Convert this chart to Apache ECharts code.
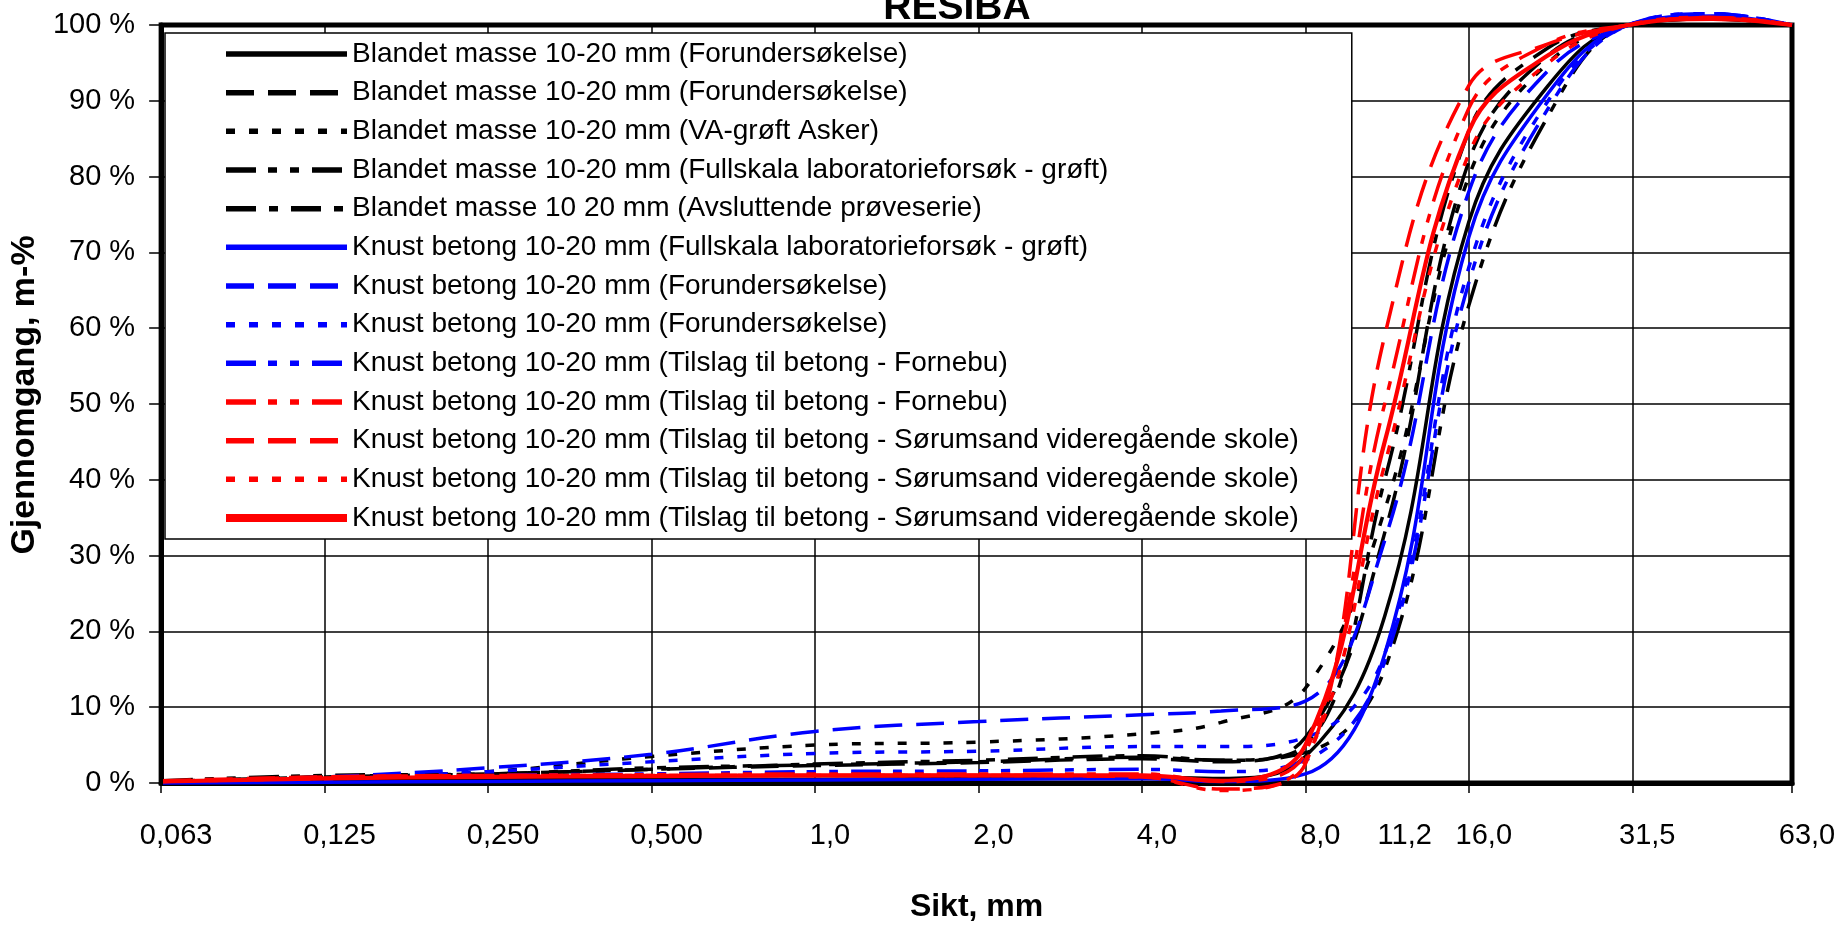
<!DOCTYPE html>
<html>
<head>
<meta charset="utf-8">
<script src="https://cdn.jsdelivr.net/npm/echarts@6/dist/echarts.min.js"></script>
<style>
  html, body { margin: 0; padding: 0; background: #fff; }
  #chart { width: 1848px; height: 928px; }
</style>
</head>
<body>
<div id="chart"></div>
<script>
// Sieve sizes (mm) at which each grading curve is sampled
const sieveSizes = [0.063, 0.125, 0.25, 0.5, 1, 2, 4, 5.6, 8, 11.2, 16, 22.4, 31.5, 45, 63];

// Percent passing, one array per sample
const mixedPre1         = [0.0, 0.3, 0.4, 0.5, 0.5, 0.6, 0.8, 0.6, 3.5, 22, 74, 92, 100, 100.8, 100];
const mixedPre2         = [0.2, 0.8, 1.2, 1.8, 2.3, 2.7, 3.2, 2.8, 6.0, 33, 82, 96, 100, 100.8, 100];
const mixedAsker        = [0.2, 0.8, 1.5, 3.5, 5.0, 5.4, 6.5, 8.0, 12.5, 36, 80, 95, 100, 101.0, 100];
const mixedFullscale    = [0.3, 1.0, 1.2, 2.0, 2.4, 2.8, 3.4, 3.0, 4.0, 15, 63, 88, 100, 101.0, 100];
const mixedFinal        = [0.2, 0.8, 1.2, 1.8, 2.5, 3.0, 3.6, 3.0, 5.0, 40, 86, 97, 100, 100.8, 100];
const concreteFullscale = [0.0, 0.1, 0.2, 0.3, 0.4, 0.5, 0.6, 0.2, 1.2, 17, 72, 91, 100, 101.2, 100];
const concretePre1      = [0.2, 0.8, 2.0, 3.8, 6.8, 8.1, 9.0, 9.5, 10.8, 32, 78, 94, 100, 101.5, 100];
const concretePre2      = [0.1, 0.5, 1.5, 2.8, 3.9, 4.2, 4.8, 4.8, 6.0, 17, 68, 90, 100, 101.5, 100];
const concreteFornebuB  = [0.2, 0.6, 1.0, 1.2, 1.5, 1.6, 1.8, 1.5, 3.0, 16, 66, 89, 100, 101.5, 100];
const concreteFornebuR  = [0.2, 0.8, 1.0, 1.1, 1.2, 1.2, 1.2, 0.2, 4.0, 50, 89, 97.5, 100, 101.0, 100];
const concreteSorum1    = [0.3, 0.8, 1.0, 1.0, 1.0, 1.0, 0.8, -0.8, 2.5, 59, 92, 97.5, 100, 101.0, 100];
const concreteSorum2    = [0.2, 0.6, 0.9, 1.0, 1.0, 1.0, 0.8, -1.0, 3.0, 42, 83, 95, 100, 101.0, 100];
const concreteSorum3    = [0.2, 0.6, 0.8, 0.9, 1.0, 1.0, 1.0, 0.3, 5.0, 45, 86, 96, 100, 100.8, 100];

// Legend texts
const seriesLabels = [
  'Blandet masse 10-20 mm (Forundersøkelse)',
  'Blandet masse 10-20 mm (Forundersøkelse)',
  'Blandet masse 10-20 mm (VA-grøft Asker)',
  'Blandet masse 10-20 mm (Fullskala laboratorieforsøk - grøft)',
  'Blandet masse 10 20 mm (Avsluttende prøveserie)',
  'Knust betong 10-20 mm (Fullskala laboratorieforsøk - grøft)',
  'Knust betong 10-20 mm (Forundersøkelse)',
  'Knust betong 10-20 mm (Forundersøkelse)',
  'Knust betong 10-20 mm (Tilslag til betong - Fornebu)',
  'Knust betong 10-20 mm (Tilslag til betong - Fornebu)',
  'Knust betong 10-20 mm (Tilslag til betong - Sørumsand videregående skole)',
  'Knust betong 10-20 mm (Tilslag til betong - Sørumsand videregående skole)',
  'Knust betong 10-20 mm (Tilslag til betong - Sørumsand videregående skole)'
];

// X axis tick labels (sieve series) and the extra 11,2 label
const tickValues = [0.0625, 0.125, 0.25, 0.5, 1, 2, 4, 8, 16, 32, 63];
const tickLabels = ['0,063', '0,125', '0,250', '0,500', '1,0', '2,0', '4,0', '8,0', '16,0', '31,5', '63,0'];
const extraTickValue = 11.2;
const extraTickLabel = '11,2';

const yTicks = { min: 0, max: 100, step: 10 };

const FONT = 'Liberation Sans, Arial, Helvetica, sans-serif';
const BLACK = '#000000', BLUE = '#0000ff', RED = '#ff0000';

const DASH = [28, 14];
const DOT = [9, 14];
const DASH_DOT = [30, 13, 9, 13];
const DASH_DOT_DOT = [30, 12, 9, 13, 9, 13];

const seriesValues = [
  mixedPre1, mixedPre2, mixedAsker, mixedFullscale, mixedFinal,
  concreteFullscale, concretePre1, concretePre2, concreteFornebuB,
  concreteFornebuR, concreteSorum1, concreteSorum2, concreteSorum3
];
const seriesStyles = [
  { color: BLACK, type: 'solid' },
  { color: BLACK, type: DASH },
  { color: BLACK, type: DOT },
  { color: BLACK, type: DASH_DOT_DOT },
  { color: BLACK, type: DASH_DOT },
  { color: BLUE, type: 'solid' },
  { color: BLUE, type: DASH },
  { color: BLUE, type: DOT },
  { color: BLUE, type: DASH_DOT_DOT },
  { color: RED, type: DASH_DOT_DOT },
  { color: RED, type: DASH },
  { color: RED, type: DOT },
  { color: RED, type: 'solid', heavy: true }
];

// Legend entries need unique keys; repeated texts get invisible suffixes
const seriesKeys = seriesLabels.map((t, i) => t + '\u200B'.repeat(i + 1));

const chart = echarts.init(document.getElementById('chart'), null, { renderer: 'canvas' });

function tickText(v) {
  let best = 0, bestErr = Infinity;
  tickValues.forEach((t, i) => {
    const e = Math.abs(Math.log(v / t));
    if (e < bestErr) { bestErr = e; best = i; }
  });
  return tickLabels[best];
}

const series = seriesValues.map((vals, i) => ({
  name: seriesKeys[i],
  type: 'line',
  data: sieveSizes.map((x, k) => [x, vals[k]]),
  smooth: 0.4,
  symbol: 'none',
  showSymbol: false,
  clip: false,
  z: 3 + (seriesStyles[i].color === RED ? 2 : 0),
  lineStyle: {
    color: seriesStyles[i].color,
    width: seriesStyles[i].heavy ? 4.2 : 3.5,
    type: seriesStyles[i].type,
    cap: 'butt'
  },
  itemStyle: { color: seriesStyles[i].color },
  emphasis: { disabled: true }
}));

chart.setOption({
  backgroundColor: '#ffffff',
  animation: false,
  textStyle: { fontFamily: FONT },
  grid: {
    left: 156.7, right: 56, top: 25, bottom: 143,
    containLabel: false,
    show: true, borderColor: BLACK, borderWidth: 5, backgroundColor: 'transparent'
  },
  xAxis: {
    type: 'log',
    logBase: 2,
    min: tickValues[0],
    max: tickValues[tickValues.length - 1],
    splitNumber: 10,
    name: 'Sikt, mm',
    nameLocation: 'middle',
    nameGap: 108,
    nameTextStyle: { fontSize: 32, fontWeight: 'bold', color: BLACK, fontFamily: FONT },
    axisLine: { show: true, lineStyle: { color: BLACK, width: 5 } },
    axisTick: { show: true, length: 10, inside: false, lineStyle: { color: BLACK, width: 1.5 } },
    splitLine: { show: true, lineStyle: { color: BLACK, width: 1.5 } },
    minorTick: { show: false },
    axisLabel: {
      show: true,
      margin: 38,
      fontSize: 29,
      color: BLACK,
      fontFamily: FONT,
      padding: [0, 0, 0, 30],
      showMinLabel: true,
      showMaxLabel: true,
      formatter: v => tickText(v)
    }
  },
  yAxis: {
    type: 'value',
    min: yTicks.min,
    max: yTicks.max,
    interval: yTicks.step,
    name: 'Gjennomgang, m-%',
    nameLocation: 'middle',
    nameGap: 112,
    nameRotate: 90,
    nameTextStyle: {
      fontSize: 34, fontWeight: 'bold', color: BLACK, fontFamily: FONT,
      padding: [0, 0, 0, 18]
    },
    axisLine: { show: true, lineStyle: { color: BLACK, width: 5 } },
    axisTick: { show: true, length: 12, inside: false, lineStyle: { color: BLACK, width: 1.5 } },
    splitLine: { show: true, lineStyle: { color: BLACK, width: 1.5 } },
    axisLabel: {
      margin: 26,
      fontSize: 29,
      color: BLACK,
      fontFamily: FONT,
      showMinLabel: true,
      showMaxLabel: true,
      formatter: '{value} %'
    }
  },
  legend: {
    show: true,
    orient: 'vertical',
    left: 165,
    top: 33,
    padding: [6, 53, 6, 57],
    itemWidth: 121,
    itemHeight: 14,
    itemGap: 8.67,
    backgroundColor: '#ffffff',
    borderColor: BLACK,
    borderWidth: 1.5,
    borderRadius: 0,
    selectedMode: false,
    z: 20,
    textStyle: { fontSize: 28, color: BLACK, fontFamily: FONT, lineHeight: 30 },
    formatter: name => name.replace(/\u200B/g, ''),
    data: seriesKeys.map((k, i) => ({
      name: k,
      // line only: the marker part of the icon is made transparent
      itemStyle: { color: 'rgba(0,0,0,0)', borderWidth: 0, opacity: 0 },
      lineStyle: {
        color: seriesStyles[i].color,
        width: seriesStyles[i].heavy ? 8 : 5.5,
        type: seriesStyles[i].type,
        cap: 'butt',
        opacity: 1
      }
    }))
  },
  series: series
});

// Chart title and the 11,2 sieve label placed through the axis scale
const x112 = chart.convertToPixel({ xAxisIndex: 0 }, extraTickValue);
const y0 = chart.convertToPixel({ yAxisIndex: 0 }, 0);
chart.setOption({
  graphic: [
    {
      type: 'text',
      style: {
        text: 'RESIBA',
        x: 957,
        y: 8.5,
        align: 'center',
        verticalAlign: 'middle',
        fill: BLACK,
        font: 'bold 39px ' + FONT
      },
      z: 30
    },
    {
      type: 'text',
      style: {
        text: extraTickLabel,
        x: x112 + 20,
        y: y0 + 38,
        align: 'center',
        verticalAlign: 'top',
        fill: BLACK,
        font: '29px ' + FONT
      },
      z: 30
    }
  ]
});
</script>
</body>
</html>
